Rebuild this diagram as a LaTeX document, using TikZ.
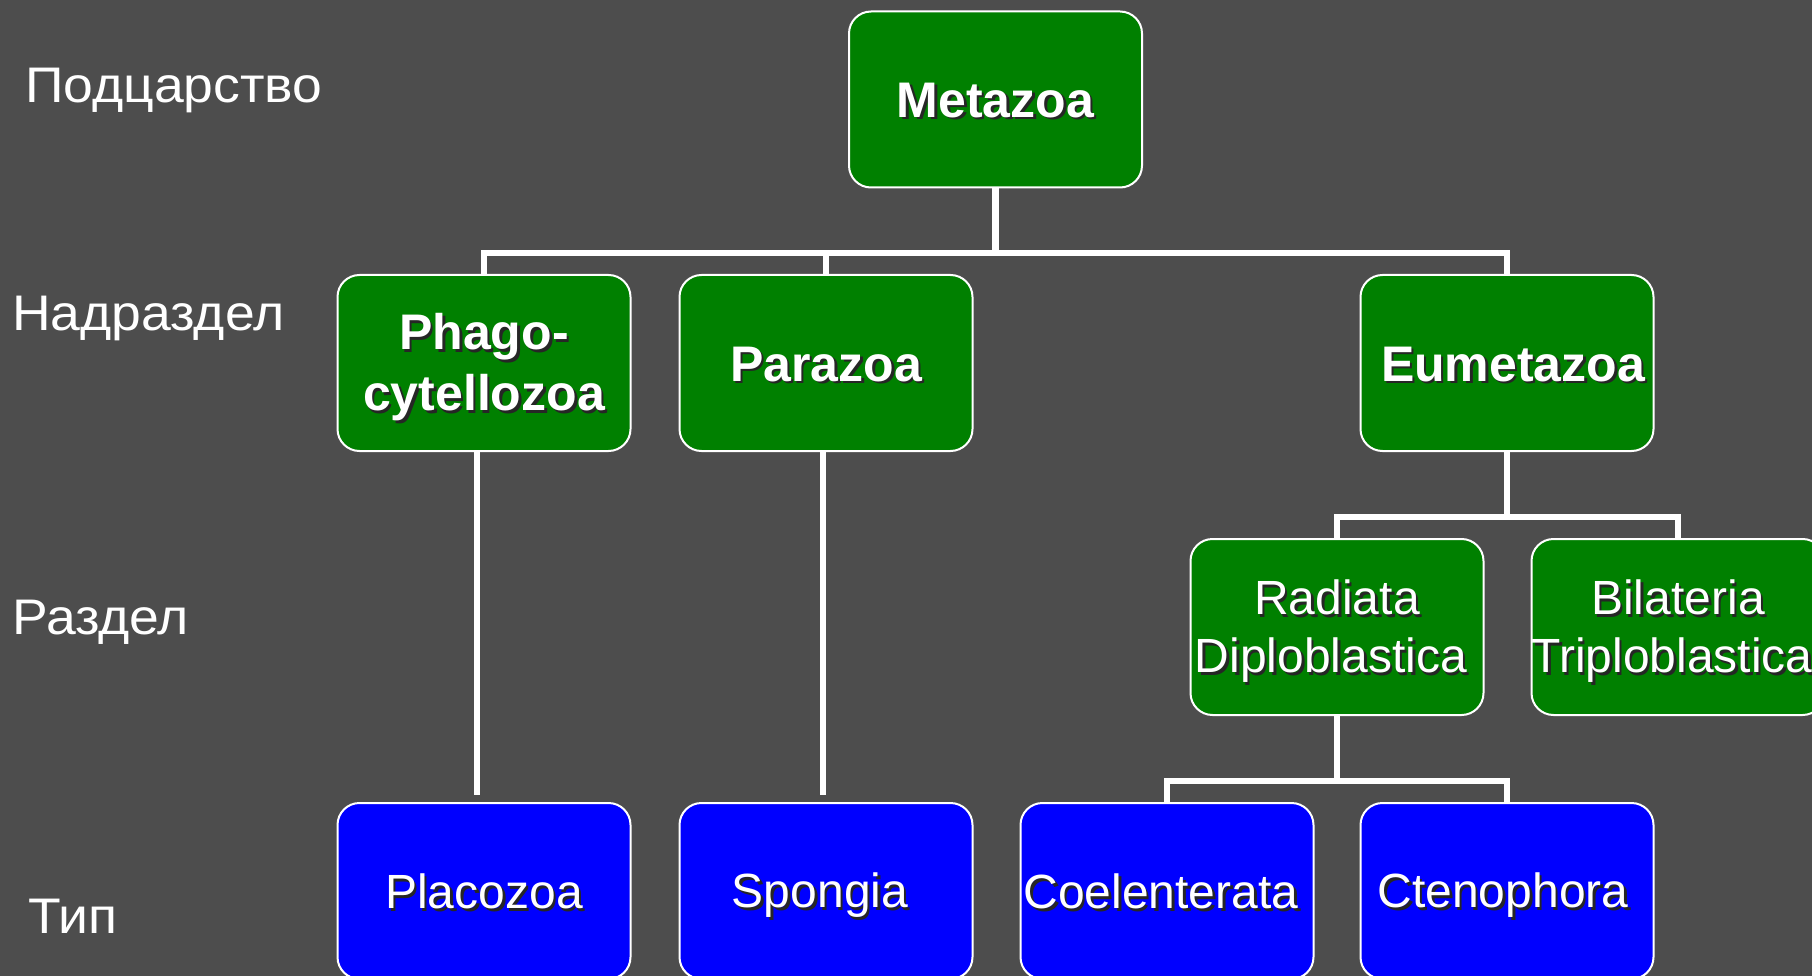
\documentclass[tikz,border=0pt]{standalone}
\usepackage{fontspec}
\setmainfont{Liberation Sans}
\newfontfamily\labfont[FakeStretch=1.07]{Liberation Sans}
\definecolor{bg}{RGB}{77,77,77}
\definecolor{gbox}{RGB}{0,128,0}
\definecolor{bbox}{RGB}{0,0,255}
\newcommand\shtext[1]{\leavevmode\rlap{\hspace{2.5pt}\raisebox{-2.5pt}{\textcolor{black!85}{#1}}}#1}
% struts fixing line height/depth so that text sits slightly below box centre
\newcommand\bstrut{\rule[-11pt]{0pt}{58pt}}
\newcommand\rstrut{\rule[-11pt]{0pt}{57.4pt}}
\tikzset{
  taxbox/.style={rectangle, rounded corners=22pt, draw=white, line width=2pt,
    minimum width=293pt, minimum height=176pt, inner sep=0pt, text=white, align=center},
  gnode/.style={taxbox, fill=gbox},
  bnode/.style={taxbox, fill=bbox},
  boldtxt/.style={font=\fontsize{50}{61}\selectfont\bfseries},
  regtxt/.style={font=\fontsize{48}{58}\selectfont},
  lab/.style={text=white, anchor=west, inner sep=0pt, font=\fontsize{50}{60}\labfont},
  conn/.style={draw=white, line width=6.5pt}
}
\begin{document}
\begin{tikzpicture}[x=1pt,y=-1pt]
\fill[bg] (0,0) rectangle (1812,976);
\useasboundingbox (0,0) rectangle (1812,976);
% level labels
\node[lab] (l1) at (25,90) {Подцарство};
\node[lab] (l2) at (12,318) {Надраздел};
\node[lab] (l3) at (12,622) {Раздел};
\node[lab] (l4) at (28,916) {Тип};
% boxes
\node[gnode, boldtxt] (meta) at (995.5,99.5) {\bstrut\shtext{Metazoa}};
\node[gnode, boldtxt] (phago) at (484,363) {\bstrut\shtext{Phago-}\\\bstrut\shtext{cytellozoa}};
\node[gnode, boldtxt] (para) at (826,363) {\bstrut\shtext{Parazoa}};
\node[gnode, boldtxt] (eume) at (1507,363) {\kern12pt\bstrut\shtext{Eumetazoa}};
\node[gnode, regtxt] (radi) at (1337,627) {\rstrut\shtext{Radiata}\\\rstrut\shtext{Diploblastica}\kern12pt};
\node[gnode, regtxt] (bila) at (1678,627) {\rstrut\shtext{Bilateria}\\\rstrut\shtext{Triploblastica}\kern12pt};
\node[bnode, regtxt] (placo) at (484,891) {\rstrut\shtext{Placozoa}};
\node[bnode, regtxt] (spon) at (826,891) {\rstrut\shtext{Spongia}\kern12pt};
\node[bnode, regtxt] (coel) at (1167,891) {\rstrut\shtext{Coelenterata}\kern12pt};
\node[bnode, regtxt] (cten) at (1507,891) {\rstrut\shtext{Ctenophora}\kern8pt};
% bar coordinates
\coordinate (b1) at (0,253);
\coordinate (b2) at (0,517);
\coordinate (b3) at (0,781);
% connectors level 1
\draw[conn] (meta.south) -- (meta.south |- b1);
\draw[conn] (phago.north) -- (phago.north |- b1) -- (eume.north |- b1) -- (eume.north);
\draw[conn] (para.north) -- (para.north |- b1);
% connectors level 2
\draw[conn] (eume.south) -- (eume.south |- b2);
\draw[conn] (radi.north) -- (radi.north |- b2) -- (bila.north |- b2) -- (bila.north);
% connectors level 3
\draw[conn] (radi.south) -- (radi.south |- b3);
\draw[conn] (coel.north) -- (coel.north |- b3) -- (cten.north |- b3) -- (cten.north);
% long verticals
\draw[conn, shorten >=7pt] ([xshift=-7pt]phago.south) -- ([xshift=-7pt]placo.north);
\draw[conn, shorten >=7pt] ([xshift=-3pt]para.south) -- ([xshift=-3pt]spon.north);
\end{tikzpicture}
\end{document}
